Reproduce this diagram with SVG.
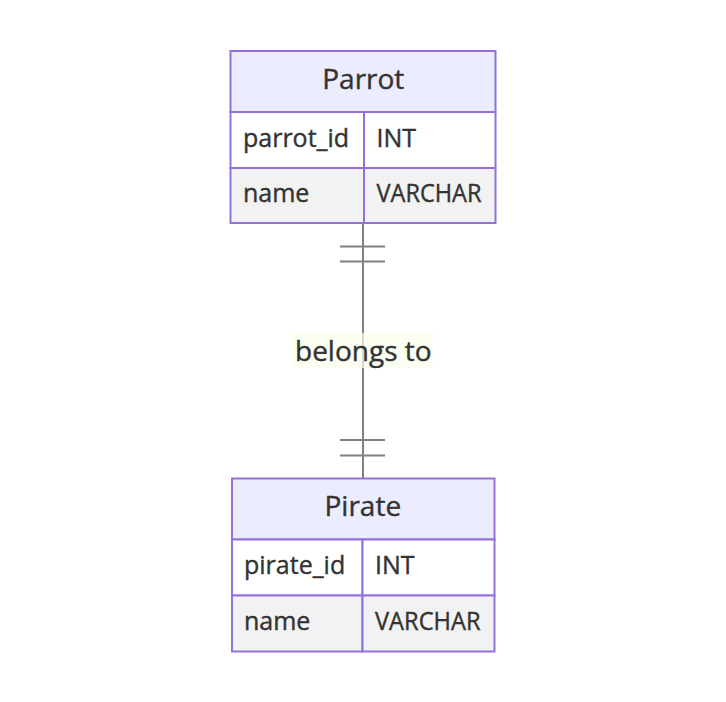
<svg xmlns="http://www.w3.org/2000/svg" width="726" height="702" viewBox="0 0 726 702">
<style>
.box{stroke:#9370DB;stroke-width:2;}
.hdr{fill:#ECECFF;}
.odd{fill:#ffffff;}
.even{fill:#f2f2f2;}
.t{font-family:"Open Sans","Liberation Sans",sans-serif;fill:#333333;stroke:#333333;stroke-width:0.4;}
.title{font-size:28px;text-anchor:middle;}
.attr{font-size:25px;}
.rel{stroke:#808080;stroke-width:2;fill:none;}
.lblbg{fill:#f9ffec;opacity:0.7;}
</style>
<rect width="726" height="702" fill="#ffffff"/>
<g id="connectors">
  <path class="rel" d="M363,223 L363,478"/>
  <path class="rel" d="M340,246.5 H385 M340,261.5 H385"/>
  <path class="rel" d="M340,440 H385 M340,455.5 H385"/>
  <rect class="lblbg" x="292" y="333" width="141" height="35"/>
  <text class="t title" x="363.3" y="361">belongs to</text>
</g>
<g id="Parrot">
  <rect class="box hdr" x="230.5" y="51" width="265" height="61"/>
  <rect class="box odd" x="230.5" y="112" width="133.5" height="56"/>
  <rect class="box odd" x="364" y="112" width="131.5" height="56"/>
  <rect class="box even" x="230.5" y="168" width="133.5" height="55"/>
  <rect class="box even" x="364" y="168" width="131.5" height="55"/>
  <text class="t title" x="363.3" y="88.5">Parrot</text>
  <text class="t attr" x="243" y="147.3">parrot_id</text>
  <text class="t attr" x="376.5" y="147.3">INT</text>
  <text class="t attr" x="243" y="202.3">name</text>
  <text class="t attr" x="376.5" y="202.3" textLength="105" lengthAdjust="spacingAndGlyphs">VARCHAR</text>
</g>
<g id="Pirate">
  <rect class="box hdr" x="232" y="478.5" width="262.5" height="61"/>
  <rect class="box odd" x="232" y="539.5" width="130.5" height="56"/>
  <rect class="box odd" x="362.5" y="539.5" width="132" height="56"/>
  <rect class="box even" x="232" y="595.5" width="130.5" height="56"/>
  <rect class="box even" x="362.5" y="595.5" width="132" height="56"/>
  <text class="t title" x="362.8" y="516.2">Pirate</text>
  <text class="t attr" x="244" y="574.3">pirate_id</text>
  <text class="t attr" x="375" y="574.3">INT</text>
  <text class="t attr" x="244" y="630.3">name</text>
  <text class="t attr" x="375" y="630.3" textLength="105.5" lengthAdjust="spacingAndGlyphs">VARCHAR</text>
</g>
</svg>
